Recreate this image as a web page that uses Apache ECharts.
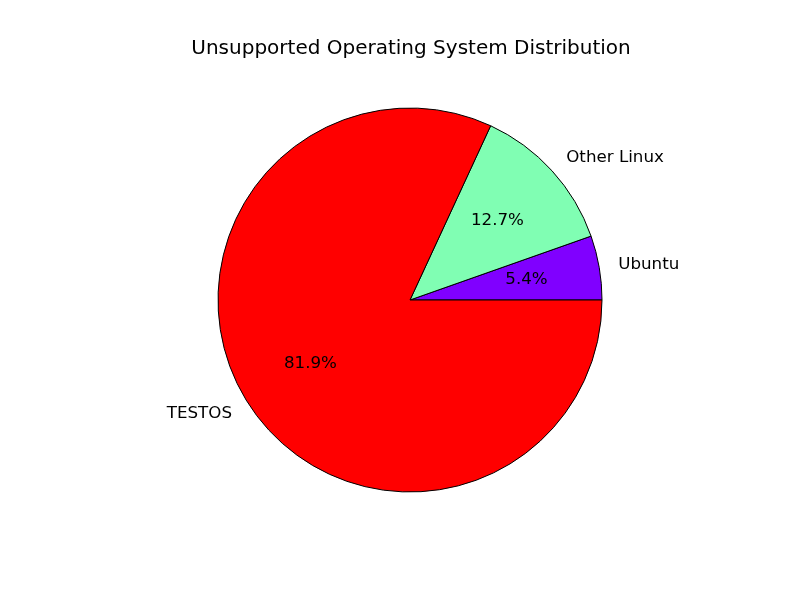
<!DOCTYPE html>
<html lang="en">
<head>
    <meta charset="UTF-8">
    <title>Unsupported Operating System Distribution</title>
    <script src="https://cdn.jsdelivr.net/npm/echarts@6/dist/echarts.min.js"></script>
    <style>
        html, body { margin: 0; padding: 0; background: #fff; }
        #chart { width: 800px; height: 600px; }
    </style>
</head>
<body>
<div id="chart"></div>
<script type="text/javascript">
    // 数据
    var names = ['Ubuntu', 'Other Linux', 'TESTOS'];
    var shares = [5.4, 12.7, 81.9];
    var colors = ['#8000ff', '#80feb3', '#ff0000'];

    var R = 192;
    var font = 'DejaVu Sans';

    var data = names.map(function (n, i) {
        return { name: n, value: shares[i], itemStyle: { color: colors[i] } };
    });

    var chart = echarts.init(document.getElementById('chart'));
    var option = {
        animation: false,
        title: {
            text: 'Unsupported Operating System Distribution',
            left: 406,
            top: 34,
            textAlign: 'center',
            textStyle: { fontFamily: font, fontSize: 20, fontWeight: 'normal', color: '#000' }
        },
        series: [
            {
                // 扇区 + 外侧名称
                type: 'pie',
                center: [410, 300],
                radius: [0, R],
                startAngle: 0,
                clockwise: false,
                avoidLabelOverlap: false,
                silent: true,
                itemStyle: { borderColor: '#000', borderWidth: 1 },
                label: {
                    show: true,
                    position: 'outside',
                    formatter: '{b}',
                    distanceToLabelLine: 0,
                    fontFamily: font,
                    fontSize: 16.7,
                    color: '#000'
                },
                labelLine: { show: false, length: R * 0.1, length2: 0 },
                data: data
            },
            {
                // 百分比标签 (0.6 半径处)
                type: 'pie',
                center: [410, 300],
                radius: [0, R * 1.2],
                startAngle: 0,
                clockwise: false,
                silent: true,
                percentPrecision: 1,
                itemStyle: { color: 'rgba(0,0,0,0)', borderWidth: 0 },
                label: {
                    show: true,
                    position: 'inside',
                    formatter: '{d}%',
                    fontFamily: font,
                    fontSize: 16.7,
                    color: '#000'
                },
                labelLine: { show: false },
                data: names.map(function (n, i) { return { name: n, value: shares[i] }; })
            }
        ]
    };
    chart.setOption(option);
</script>
</body>
</html>
